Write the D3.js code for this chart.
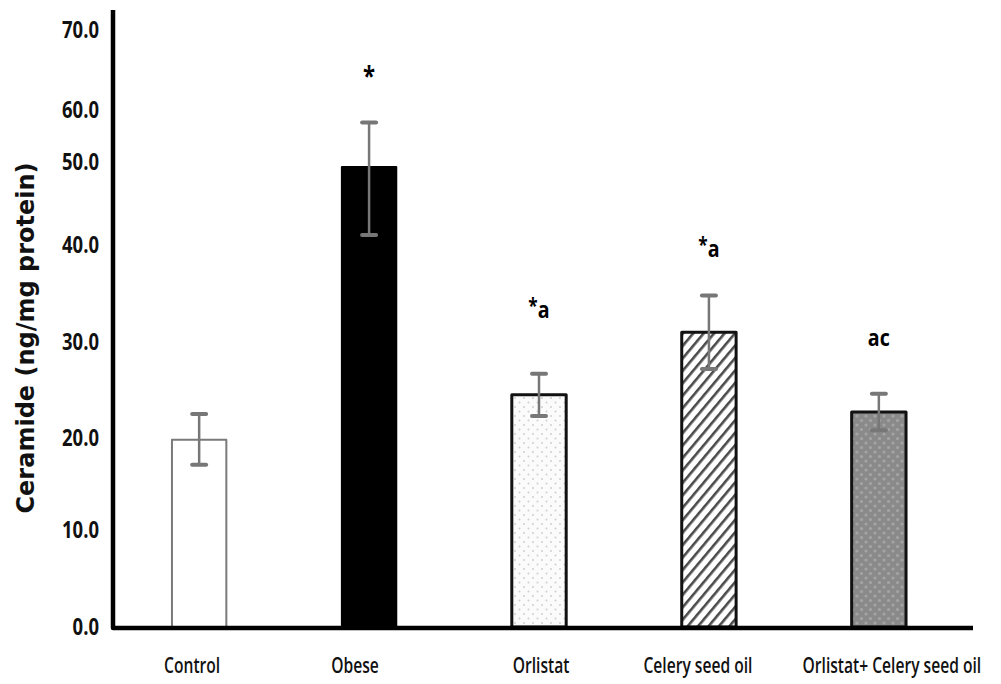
<!DOCTYPE html>
<html>
<head>
<meta charset="utf-8">
<script src="https://cdn.jsdelivr.net/npm/d3@7/dist/d3.min.js"></script>
<style>
  html, body { margin: 0; padding: 0; background: #fff; }
  svg { display: block; }
</style>
</head>
<body>
<svg id="chart" width="1001" height="684"></svg>
<script>
// Ceramide content per treatment group
const groups   = ["Control", "Obese", "Orlistat", "Celery seed oil", "Orlistat+ Celery seed oil"];
const means    = [19.8, 49.4, 24.5, 31.0, 22.7];
const sds      = [2.7, 8.2, 2.2, 3.8, 1.9];
const marks    = ["", "*", "*a", "*a", "ac"];
const yTicks   = [0, 10, 20, 30, 40, 50, 60, 70];
const yTickLabels = ["0.0", "10.0", "20.0", "30.0", "40.0", "50.0", "60.0", "70.0"];

const FONT = "'Open Sans', 'Liberation Sans', sans-serif";
const svg = d3.select("#chart");
const defs = svg.append("defs");

// squeeze text horizontally about its anchor point for a condensed look
function condense(sel, f) {
  sel.each(function () {
    const t = d3.select(this);
    const ax = +(t.attr("x") || 0);
    t.attr("transform", `translate(${ax * (1 - f)},0) scale(${f},1)`);
  });
}

// Fill patterns
const dots = defs.append("pattern").attr("id", "dotsLight")
  .attr("patternUnits", "userSpaceOnUse").attr("width", 9).attr("height", 9);
dots.append("rect").attr("width", 9).attr("height", 9).attr("fill", "#fbfbfb");
dots.append("circle").attr("cx", 2).attr("cy", 2).attr("r", 1).attr("fill", "#d0d0d0");
dots.append("circle").attr("cx", 6.5).attr("cy", 6.5).attr("r", 1).attr("fill", "#d0d0d0");

const hatch = defs.append("pattern").attr("id", "hatch")
  .attr("patternUnits", "userSpaceOnUse").attr("width", 8).attr("height", 8)
  .attr("patternTransform", "rotate(40)");
hatch.append("rect").attr("width", 8).attr("height", 8).attr("fill", "#fff");
hatch.append("rect").attr("x", 0).attr("y", 0).attr("width", 2.6).attr("height", 8).attr("fill", "#4a4a4a");

const dotsDark = defs.append("pattern").attr("id", "dotsDark")
  .attr("patternUnits", "userSpaceOnUse").attr("width", 9).attr("height", 9);
dotsDark.append("rect").attr("width", 9).attr("height", 9).attr("fill", "#8a8a8a");
dotsDark.append("circle").attr("cx", 2).attr("cy", 2).attr("r", 1.6).attr("fill", "#a4a4a4");
dotsDark.append("circle").attr("cx", 6.5).attr("cy", 6.5).attr("r", 1.6).attr("fill", "#a4a4a4");

const fills   = ["#fff", "#000", "url(#dotsLight)", "url(#hatch)", "url(#dotsDark)"];
const strokes = ["#7a7a7a", "#000", "#111", "#111", "#111"];
const strokeW = [2, 2, 3, 3, 3];

// Layout
const x0 = 113, xEnd = 973, yBase = 628, yTop = 10;
// gap between the top of each error bar and its significance letters
const markGap = { "Obese": 36, "Orlistat": 56, "Celery seed oil": 38, "Orlistat+ Celery seed oil": 48 };
// horizontal nudge of each category label from its bar centre
const labelNudge = { "Control": -7, "Obese": -14, "Orlistat": 2, "Celery seed oil": -11, "Orlistat+ Celery seed oil": 13 };

const x = d3.scaleBand().domain(groups)
  .range([x0, 965]).paddingInner(0.68).paddingOuter(0.347);

// value axis with the printed tick stops
const y = d3.scaleLinear().domain(yTicks)
  .range([627, 530, 438, 342, 245, 162, 110, 30]);

// Bars
svg.append("g").selectAll("rect").data(groups).join("rect")
  .attr("x", d => x(d))
  .attr("y", (d, i) => y(means[i]))
  .attr("width", x.bandwidth())
  .attr("height", (d, i) => y(0) - y(means[i]))
  .attr("fill", (d, i) => fills[i])
  .attr("stroke", (d, i) => strokes[i])
  .attr("stroke-width", (d, i) => strokeW[i])
  .attr("stroke-linejoin", "round");

// Error bars
const eb = svg.append("g").attr("stroke", "#777").attr("fill", "none");
groups.forEach((g, i) => {
  const cx = x(g) + x.bandwidth() / 2;
  const hi = y(means[i] + sds[i]), lo = y(means[i] - sds[i]);
  eb.append("line").attr("x1", cx).attr("x2", cx).attr("y1", hi).attr("y2", lo).attr("stroke-width", 2.5);
  eb.append("line").attr("x1", cx - 7).attr("x2", cx + 7).attr("y1", hi).attr("y2", hi)
    .attr("stroke-width", 4).attr("stroke-linecap", "round");
  eb.append("line").attr("x1", cx - 7).attr("x2", cx + 7).attr("y1", lo).attr("y2", lo)
    .attr("stroke-width", 4).attr("stroke-linecap", "round");
});

// Significance letters
const sig = svg.append("g").attr("font-family", FONT).attr("font-weight", "bold")
  .attr("text-anchor", "middle").attr("fill", "#000");
groups.forEach((g, i) => {
  if (!marks[i]) return;
  const cx = x(g) + x.bandwidth() / 2;
  const top = y(means[i] + sds[i]);
  const t = sig.append("text").attr("x", cx).attr("y", top - markGap[g]).attr("font-size", 24);
  const m = marks[i];
  if (m[0] === "*") {
    t.append("tspan").text("*").attr("dy", m.length > 1 ? "-5" : "0").attr("font-size", m.length > 1 ? 21 : 27);
    if (m.length > 1) t.append("tspan").text(m.slice(1)).attr("dy", "5");
  } else {
    t.text(m);
  }
});
condense(sig.selectAll("text"), 0.82);

// Axes
const yAxis = d3.axisLeft(y).tickValues(yTicks)
  .tickFormat((d, i) => yTickLabels[i]).tickSize(0).tickPadding(14);
const ya = svg.append("g").attr("transform", `translate(${x0},0)`).call(yAxis);
ya.select(".domain").remove();
ya.attr("font-family", null).attr("font-size", null);
ya.selectAll("text").attr("font-family", FONT).attr("font-size", 24).attr("font-weight", "bold")
  .attr("fill", "#111");
condense(ya.selectAll("text"), 0.77);

const xAxis = d3.axisBottom(x).tickSize(0).tickPadding(29);
const xa = svg.append("g").attr("transform", `translate(0,${yBase})`).call(xAxis);
xa.select(".domain").remove();
xa.attr("font-family", null).attr("font-size", null);
const LABEL_SQUEEZE = 0.71;
xa.selectAll("text").attr("font-family", FONT).attr("font-size", 22).attr("font-weight", 600)
  .attr("fill", "#111")
  .attr("x", d => labelNudge[d]);
condense(xa.selectAll("text"), LABEL_SQUEEZE);

// Axis lines
svg.append("path")
  .attr("d", `M${x0},${yTop} L${x0},${yBase} L${xEnd},${yBase}`)
  .attr("fill", "none").attr("stroke", "#000").attr("stroke-width", 4.5)
  .attr("stroke-linejoin", "round");

// Y title
svg.append("text")
  .attr("transform", `translate(34,338) rotate(-90)`)
  .attr("text-anchor", "middle")
  .attr("font-family", "'DejaVu Sans', sans-serif")
  .attr("font-weight", "bold").attr("font-size", 24).attr("fill", "#111")
  .text("Ceramide (ng/mg protein)");
</script>
</body>
</html>
